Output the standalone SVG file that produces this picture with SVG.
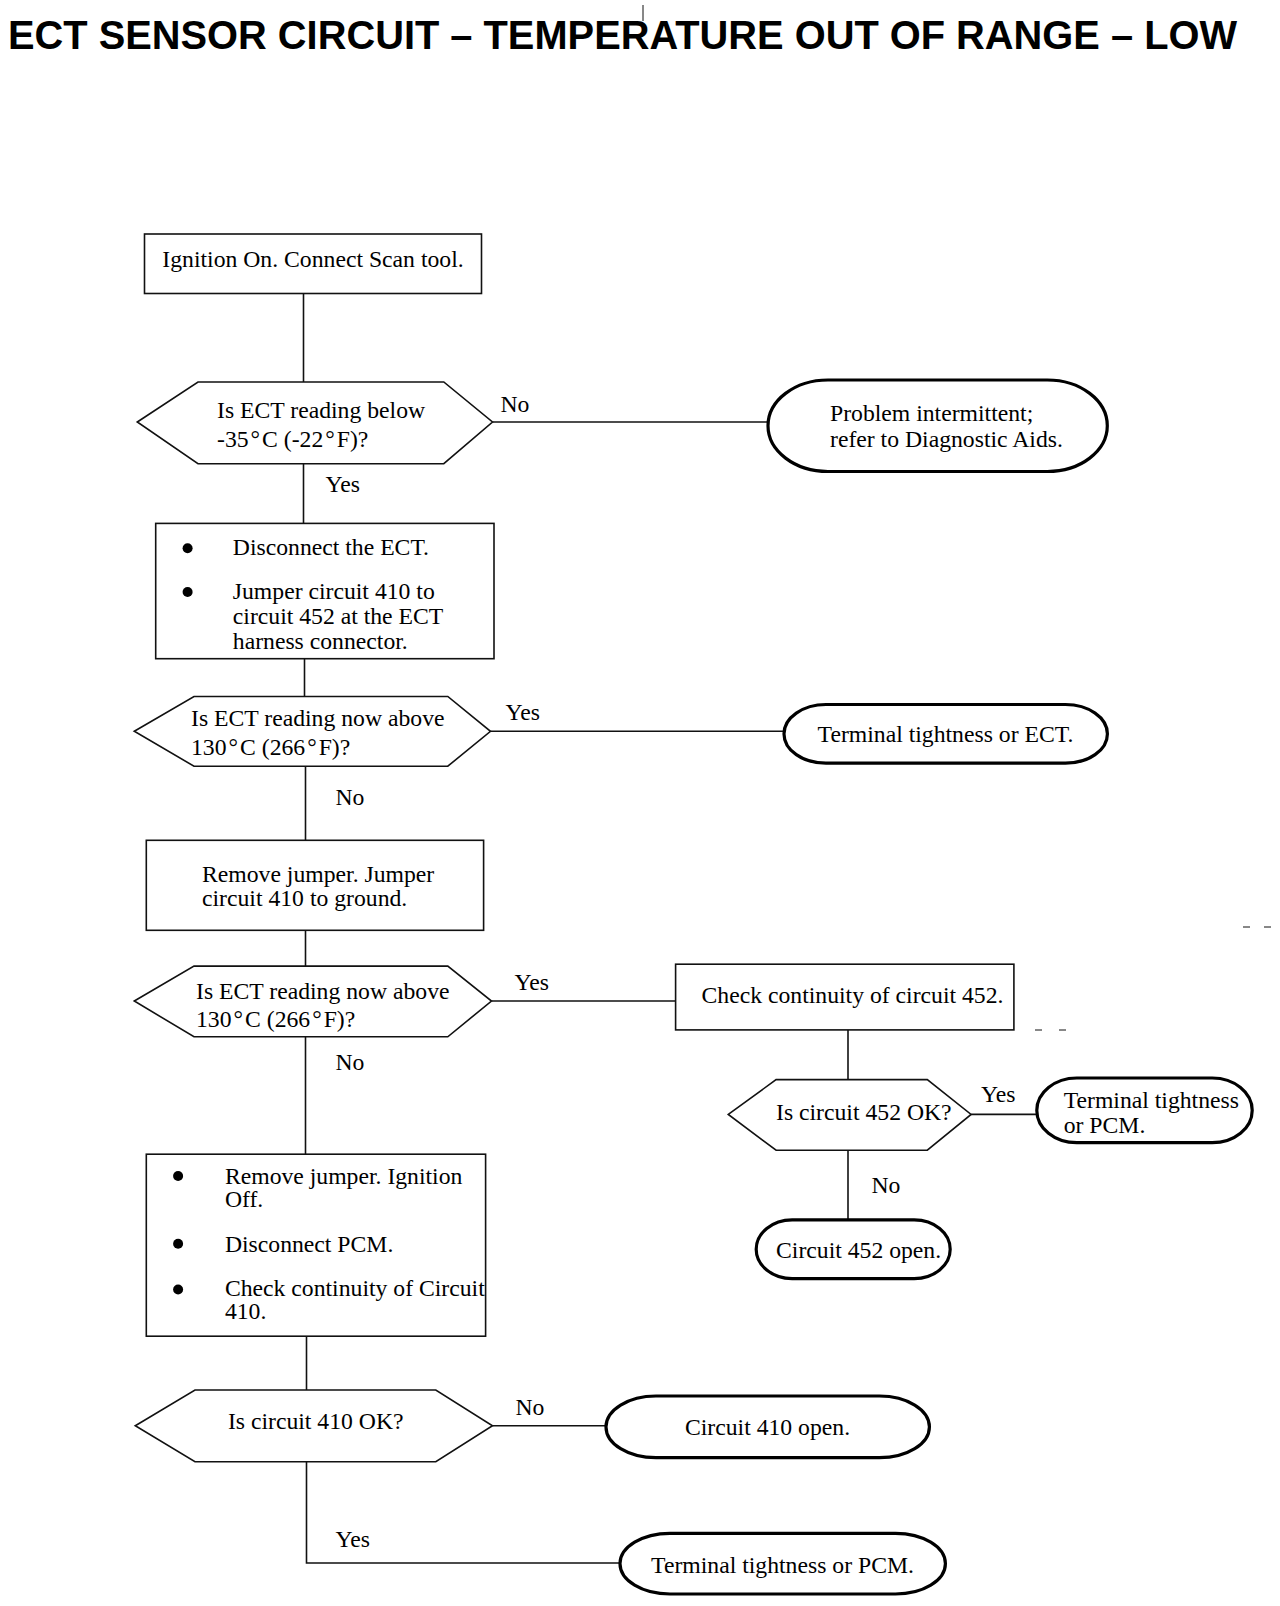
<svg xmlns="http://www.w3.org/2000/svg" width="1280" height="1606" viewBox="0 0 1280 1606">
<style>
  .t { font-family: "Liberation Serif", "Times New Roman", serif; font-size: 23.7px; fill: #000; }
  .c { text-anchor: middle; }
  .title { font-family: "Liberation Sans", Arial, sans-serif; font-weight: bold; font-size: 41px; fill: #000; }
  .box { fill: #fff; stroke: #111; stroke-width: 1.6; }
  .dec { fill: #fff; stroke: #111; stroke-width: 1.6; }
  .term { fill: #fff; stroke: #000; stroke-width: 3.2; }
  .conn { fill: none; stroke: #111; stroke-width: 1.6; }
  .dot { fill: #000; }
</style>
<rect x="0" y="0" width="1280" height="1606" fill="#fff"/>
<text class="title" x="8" y="49" textLength="1229" lengthAdjust="spacingAndGlyphs">ECT SENSOR CIRCUIT – TEMPERATURE OUT OF RANGE – LOW</text>
<g id="marks" stroke="#111" stroke-width="1">
  <line x1="643" y1="5" x2="643" y2="21"/>
  <line x1="1035" y1="1030" x2="1042" y2="1030"/>
  <line x1="1059" y1="1030" x2="1066" y2="1030"/>
  <line x1="1243" y1="927" x2="1250" y2="927"/>
  <line x1="1264" y1="927" x2="1271" y2="927"/>
</g>
<g id="connectors">
  <path class="conn" d="M303.5 293.5 V382"/>
  <path class="conn" d="M492.5 422 H768"/>
  <path class="conn" d="M303.5 463.7 V523.4"/>
  <path class="conn" d="M304.5 658.7 V696.5"/>
  <path class="conn" d="M490.5 731.3 H784"/>
  <path class="conn" d="M305.5 766.2 V840.3"/>
  <path class="conn" d="M305.5 930.3 V966.1"/>
  <path class="conn" d="M491.5 1001 H675.6"/>
  <path class="conn" d="M848 1029.9 V1079.6"/>
  <path class="conn" d="M971.1 1114.4 H1036.8"/>
  <path class="conn" d="M848 1150.2 V1219.9"/>
  <path class="conn" d="M305.5 1036.8 V1154.2"/>
  <path class="conn" d="M306.5 1336.2 V1390"/>
  <path class="conn" d="M492.5 1425.8 H606"/>
  <path class="conn" d="M306.5 1461.7 V1563 H620"/>
  <text class="t" x="500.5" y="412">No</text>
  <text class="t" x="325.5" y="491.5">Yes</text>
  <text class="t" x="505.5" y="719.5">Yes</text>
  <text class="t" x="335.5" y="805">No</text>
  <text class="t" x="514.5" y="990">Yes</text>
  <text class="t" x="981" y="1101.5">Yes</text>
  <text class="t" x="871.5" y="1193">No</text>
  <text class="t" x="335.5" y="1069.5">No</text>
  <text class="t" x="515.5" y="1415">No</text>
  <text class="t" x="335.5" y="1547">Yes</text>
</g>
<g id="start">
  <rect class="box" x="144.5" y="234" width="337" height="59.5"/>
  <text class="t c" x="313" y="266.7">Ignition On. Connect Scan tool.</text>
</g>
<g id="q1">
  <polygon class="dec" points="137.3,422 198,382 443.8,382 492.5,422 443.8,463.7 198,463.7"/>
  <text class="t" x="217" y="418">Is ECT reading below</text>
  <text class="t" x="217" y="446.8">-35<tspan dx="2">°</tspan><tspan dx="2">C</tspan> (-22<tspan dx="2">°</tspan><tspan dx="2">F</tspan>)?</text>
</g>
<g id="t1">
  <rect class="term" x="768" y="380" width="339.3" height="91.5" rx="60" ry="45.7"/>
  <text class="t" x="830" y="421">Problem intermittent;</text>
  <text class="t" x="830" y="446.8">refer to Diagnostic Aids.</text>
</g>
<g id="step2">
  <rect class="box" x="155.7" y="523.4" width="338.3" height="135.3"/>
  <circle class="dot" cx="187.6" cy="548.2" r="5"/>
  <circle class="dot" cx="187.6" cy="592" r="5"/>
  <text class="t" x="232.8" y="555.2">Disconnect the ECT.</text>
  <text class="t" x="232.8" y="599">Jumper circuit 410 to</text>
  <text class="t" x="232.8" y="624">circuit 452 at the ECT</text>
  <text class="t" x="232.8" y="648.7">harness connector.</text>
</g>
<g id="q2">
  <polygon class="dec" points="134.3,731.3 194,696.5 447.8,696.5 490.5,731.3 447.8,766.2 194,766.2"/>
  <text class="t" x="191" y="726.4">Is ECT reading now above</text>
  <text class="t" x="191" y="755.2">130<tspan dx="2">°</tspan><tspan dx="2">C</tspan> (266<tspan dx="2">°</tspan><tspan dx="2">F</tspan>)?</text>
</g>
<g id="t2">
  <rect class="term" x="784" y="704.5" width="323.4" height="58.7" rx="42" ry="29.3"/>
  <text class="t c" x="945.5" y="742.3">Terminal tightness or ECT.</text>
</g>
<g id="step3">
  <rect class="box" x="146.3" y="840.3" width="337.3" height="90"/>
  <text class="t" x="202" y="881.6">Remove jumper. Jumper</text>
  <text class="t" x="202" y="905.5">circuit 410 to ground.</text>
</g>
<g id="q3">
  <polygon class="dec" points="134.3,1001 194,966.1 447.8,966.1 491.5,1001 447.8,1036.8 194,1036.8"/>
  <text class="t" x="196" y="999">Is ECT reading now above</text>
  <text class="t" x="196" y="1026.8">130<tspan dx="2">°</tspan><tspan dx="2">C</tspan> (266<tspan dx="2">°</tspan><tspan dx="2">F</tspan>)?</text>
</g>
<g id="step4">
  <rect class="box" x="675.6" y="964.2" width="338.3" height="65.7"/>
  <text class="t" x="701.5" y="1003">Check continuity of circuit 452.</text>
</g>
<g id="q4">
  <polygon class="dec" points="728.3,1114.4 776.1,1079.6 927.3,1079.6 971.1,1114.4 927.3,1150.2 776.1,1150.2"/>
  <text class="t" x="776" y="1120.4">Is circuit 452 OK?</text>
</g>
<g id="t3">
  <rect class="term" x="1036.8" y="1078" width="215.4" height="64.7" rx="40" ry="32.3"/>
  <text class="t" x="1063.7" y="1108.4">Terminal tightness</text>
  <text class="t" x="1063.7" y="1133.3">or PCM.</text>
</g>
<g id="t4">
  <rect class="term" x="756.2" y="1219.9" width="194" height="58.7" rx="36" ry="29.3"/>
  <text class="t" x="776" y="1257.7">Circuit 452 open.</text>
</g>
<g id="step5">
  <rect class="box" x="146.3" y="1154.2" width="339.3" height="182"/>
  <circle class="dot" cx="178.1" cy="1176" r="5"/>
  <circle class="dot" cx="178.1" cy="1243.8" r="5"/>
  <circle class="dot" cx="178.1" cy="1289.5" r="5"/>
  <text class="t" x="224.9" y="1184">Remove jumper. Ignition</text>
  <text class="t" x="224.9" y="1207">Off.</text>
  <text class="t" x="224.9" y="1251.7">Disconnect PCM.</text>
  <text class="t" x="224.9" y="1295.5">Check continuity of Circuit</text>
  <text class="t" x="224.9" y="1319.4">410.</text>
</g>
<g id="q5">
  <polygon class="dec" points="135.3,1425.8 195,1390 435.8,1390 492.5,1425.8 435.8,1461.7 195,1461.7"/>
  <text class="t" x="227.9" y="1428.8">Is circuit 410 OK?</text>
</g>
<g id="t5">
  <rect class="term" x="606" y="1396" width="323.4" height="61.7" rx="50" ry="30.8"/>
  <text class="t c" x="767.5" y="1434.8">Circuit 410 open.</text>
</g>
<g id="t6">
  <rect class="term" x="620" y="1533.3" width="325.4" height="60.7" rx="50" ry="30.3"/>
  <text class="t c" x="782.5" y="1573">Terminal tightness or PCM.</text>
</g>
</svg>
